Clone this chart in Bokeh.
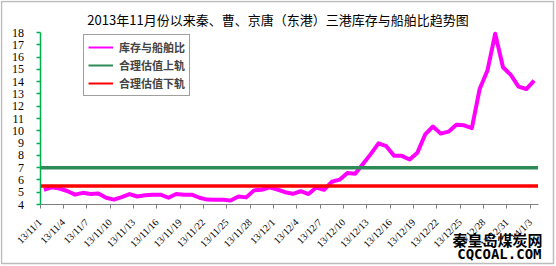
from bokeh.plotting import figure
from bokeh.models import (Range1d, FixedTicker, Legend, LegendItem, Label,
                          BoxAnnotation, LinearAxis)
from bokeh.embed import file_html
from bokeh.resources import INLINE

TITLE = "2013年11月份以来秦、曹、京唐（东港）三港库存与船舶比趋势图"
SERIES_NAMES = ["库存与船舶比", "合理估值上轨", "合理估值下轨"]
WATERMARK = ["秦皇岛煤炭网", "CQCOAL.COM"]

# categories (daily, 13/11/1 .. 14/1/3)
dates = ([f"13/11/{d}" for d in range(1, 31)]
         + [f"13/12/{d}" for d in range(1, 32)]
         + [f"14/1/{d}" for d in range(1, 4)])

# 库存与船舶比
ratio = [5.2, 5.4, 5.3, 5.1, 4.8, 4.95, 4.85, 4.9, 4.55, 4.4,
         4.6, 4.85, 4.65, 4.75, 4.8, 4.8, 4.55, 4.85, 4.8, 4.8,
         4.55, 4.4, 4.38, 4.38, 4.33, 4.65, 4.58, 5.15, 5.2, 5.4,
         5.22, 5.0, 4.87, 5.08, 4.85, 5.38, 5.2, 5.85, 6.02, 6.57,
         6.5, 7.3, 8.1, 8.98, 8.75, 7.96, 7.96, 7.66, 8.22, 9.7,
         10.35, 9.77, 9.93, 10.5, 10.45, 10.22, 13.4, 14.9, 17.9, 15.17,
         14.55, 13.6, 13.4, 14.08]

UPPER = 7.0   # 合理估值上轨
LOWER = 5.5   # 合理估值下轨

Y_MIN, Y_MAX = 4, 18
y_ticks = list(range(4, 19))
label_every = 3
COLORS = ["#FF00FF", "#2E8B57", "#FF0000"]

n = len(dates)
xs = [i + 0.5 for i in range(n)]

# layout: canvas size and plot-area position in pixels
W, H = 556, 266
PL, PR, PT, PB = 39.5, 537.5, 32, 204
kx = (PR - PL) / n
ky = (PB - PT) / (Y_MAX - Y_MIN)
x_range = Range1d(-PL / kx, n + (W - PR) / kx)
y_range = Range1d(Y_MIN - (H - PB) / ky, Y_MAX + PT / ky)

p = figure(width=W, height=H, output_backend="svg", toolbar_location=None,
           x_range=x_range, y_range=y_range,
           x_axis_location=None, y_axis_location=None,
           min_border=0, min_border_left=0, min_border_right=0,
           min_border_top=0, min_border_bottom=0,
           background_fill_color="white", border_fill_color="white")
p.outline_line_color = None
p.xgrid.visible = False
p.ygrid.visible = False

p.line(xs, ratio, line_color=COLORS[0], line_width=4, line_join="round")
p.line([0, n], [UPPER, UPPER], line_color=COLORS[1], line_width=3.5)
p.line([0, n], [LOWER, LOWER], line_color=COLORS[2], line_width=3.5)

# thin legend samples
leg_r = [p.line([0], [float("nan")], line_color=c, line_width=2) for c in COLORS]

# y axis
ya = LinearAxis(fixed_location=0, bounds=(Y_MIN, Y_MAX))
ya.ticker = FixedTicker(ticks=y_ticks)
ya.axis_line_color = "#00B050"
ya.axis_line_width = 1.5
ya.major_tick_line_color = "#00B050"
ya.major_tick_line_width = 1.5
ya.major_tick_in = 0
ya.major_tick_out = 4
ya.minor_tick_line_color = None
ya.major_label_text_font = "Liberation Serif"
ya.major_label_text_font_size = "12px"
ya.major_label_text_color = "black"
ya.major_label_standoff = 12
p.add_layout(ya, "left")

# x axis
xa = LinearAxis(fixed_location=Y_MIN, bounds=(0, n))
tick_pos = list(range(0, n, label_every))
xa.ticker = FixedTicker(ticks=tick_pos)
xa.major_label_overrides = {t: dates[t] for t in tick_pos}
xa.major_label_orientation = 0.785398
xa.axis_line_color = "#808080"
xa.major_tick_line_color = "#808080"
xa.major_tick_in = 0
xa.major_tick_out = 4
xa.minor_tick_line_color = None
xa.major_label_text_font = "Liberation Serif"
xa.major_label_text_font_size = "10px"
xa.major_label_text_color = "black"
xa.major_label_standoff = 12
p.add_layout(xa, "below")

# legend
legend = Legend(items=[LegendItem(label=SERIES_NAMES[k], renderers=[leg_r[k]]) for k in range(3)],
                location=(83, H - 96), orientation="vertical",
                label_text_font="Noto Sans CJK SC", label_text_font_size="11px",
                label_text_font_style="bold",
                glyph_width=25, glyph_height=14, label_height=14, label_standoff=6,
                padding=4, spacing=2, margin=0,
                border_line_color="#404040", border_line_width=1,
                background_fill_color="white", background_fill_alpha=1)
p.add_layout(legend)

# title
p.add_layout(Label(x=277.5, y=19, x_units="canvas", y_units="canvas", text=TITLE,
                   text_align="center", text_baseline="middle",
                   text_font="Noto Sans CJK SC", text_font_size="13px",
                   text_color="black"))

# watermark
p.add_layout(Label(x=542, y=238.5, x_units="canvas", y_units="canvas", text=WATERMARK[0],
                   text_align="right", text_baseline="middle",
                   text_font="Noto Sans CJK SC", text_font_size="15px",
                   text_font_style="bold", text_color="black"))
p.add_layout(Label(x=541, y=253, x_units="canvas", y_units="canvas", text=WATERMARK[1],
                   text_align="right", text_baseline="middle",
                   text_font="DejaVu Sans Mono", text_font_size="14px",
                   text_font_style="bold", text_color="black"))

# chart-area border
p.add_layout(BoxAnnotation(left=1, right=553, top=1, bottom=263,
                           left_units="canvas", right_units="canvas",
                           top_units="canvas", bottom_units="canvas",
                           fill_alpha=0, line_color="#222222", line_width=1.5))

open("out.html", "w").write(file_html(p, INLINE))
